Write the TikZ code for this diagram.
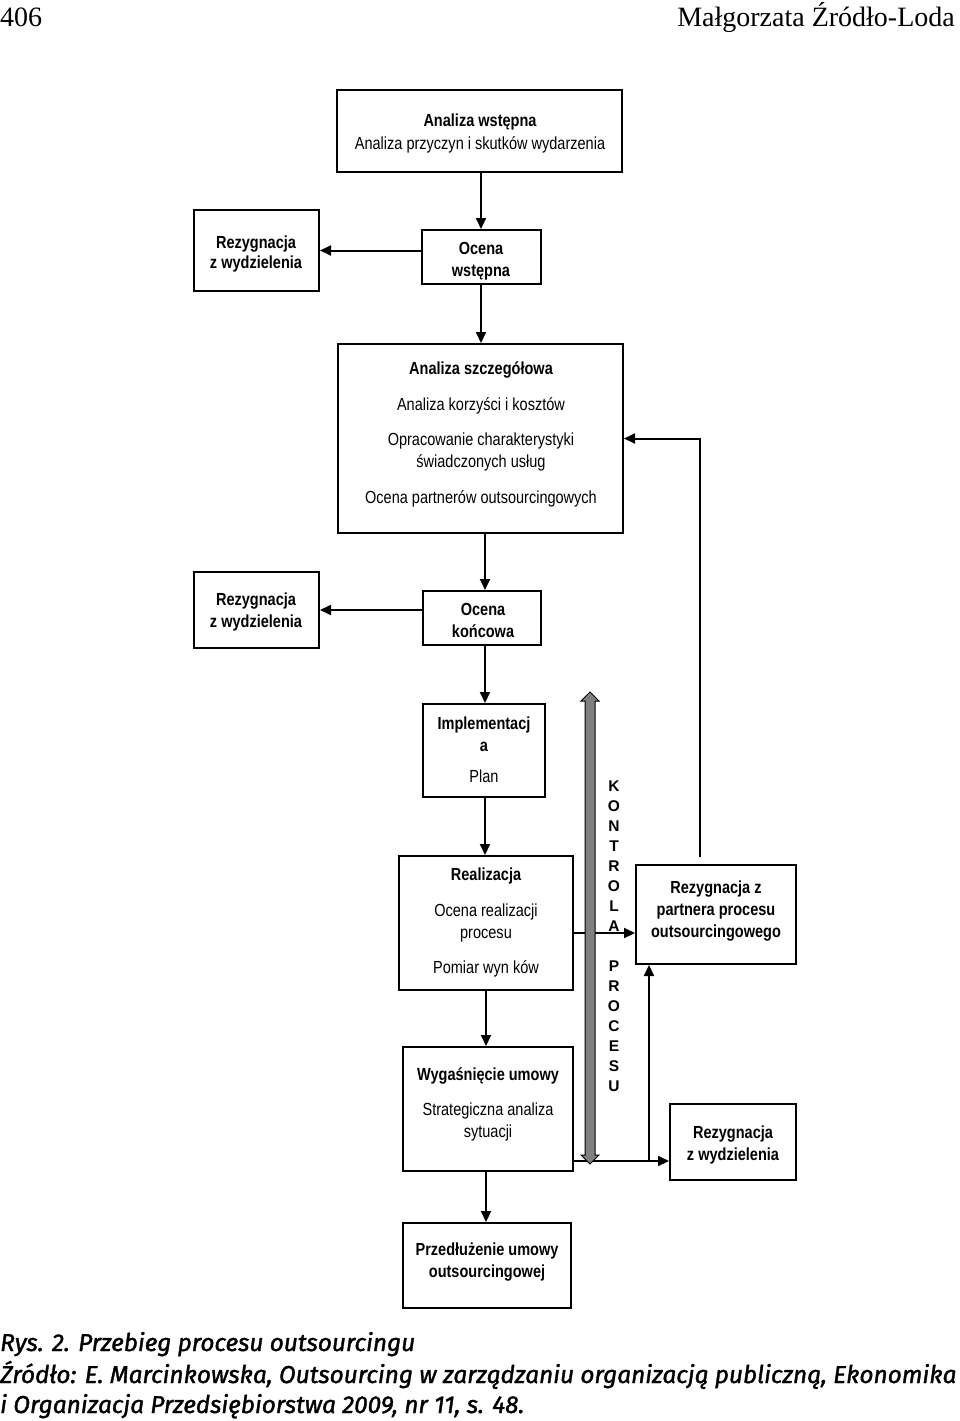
\documentclass[tikz,border=0pt]{standalone}
\usepackage{fontspec}
\usetikzlibrary{arrows.meta}
\newfontfamily\df[FakeStretch=0.83]{Liberation Sans}
\newfontfamily\kf{Liberation Sans}
\newfontfamily\hf{Liberation Serif}
\newfontfamily\cf[FakeBold=1.5]{Fira Sans}
\definecolor{shaft}{HTML}{808080}
\tikzset{
  box/.style={draw=black, line width=2pt, fill=white, inner sep=0pt},
  txt/.style={font=\df\fontsize{17.5}{20}\selectfont, inner sep=0pt, anchor=center, text height=12.5pt, text depth=0pt},
  btxt/.style={txt, font=\df\bfseries\fontsize{17.5}{20}\selectfont},
  ktxt/.style={font=\kf\bfseries\fontsize{15.5}{18}\selectfont, inner sep=0pt, anchor=center, text height=11pt, text depth=0pt},
  arr/.style={line width=2pt, -{Triangle[length=11pt,width=10pt]}},
  capt/.style={font=\cf\itshape\fontsize{24.4}{31}\selectfont, inner sep=0pt, anchor=base west},
}
\begin{document}
\begin{tikzpicture}[x=1pt,y=-1pt]
\useasboundingbox (0,0) rectangle (960,1421);
% header
\node[font=\hf\fontsize{28}{30}\selectfont, inner sep=0pt, anchor=base west] (pg) at (0,27) {406};
\node[font=\hf\fontsize{28}{30}\selectfont, inner sep=0pt, anchor=base east] (au) at (955,27) {Małgorzata Źródło-Loda};
% boxes
\node[box, minimum width=285pt, minimum height=82pt] (aw) at (479.5,131) {};
\node[box, minimum width=125pt, minimum height=81pt] (rz1) at (256.5,250.5) {};
\node[box, minimum width=119pt, minimum height=54pt] (ow) at (481.5,257) {};
\node[box, minimum width=285pt, minimum height=189pt] (as) at (480.5,438.5) {};
\node[box, minimum width=125pt, minimum height=76pt] (rz2) at (256.5,610) {};
\node[box, minimum width=118pt, minimum height=54pt] (ok) at (482,618) {};
\node[box, minimum width=122pt, minimum height=93pt] (im) at (484,750.5) {};
\node[box, minimum width=174pt, minimum height=134pt] (re) at (486,923) {};
\node[box, minimum width=170pt, minimum height=124pt] (wy) at (488,1109) {};
\node[box, minimum width=168pt, minimum height=85pt] (pr) at (487,1265.5) {};
\node[box, minimum width=160pt, minimum height=99pt] (rp) at (716,914.5) {};
\node[box, minimum width=126pt, minimum height=76pt] (rz3) at (733,1142) {};
% texts
\node[btxt] (t1) at (480,120) {Analiza wstępna};
\node[txt] (t2) at (480,143) {Analiza przyczyn i skutków wydarzenia};
\node[btxt] (t3) at (256,242) {Rezygnacja};
\node[btxt] (t4) at (256,262) {z wydzielenia};
\node[btxt] (t5) at (481,248) {Ocena};
\node[btxt] (t6) at (481,270) {wstępna};
\node[btxt] (t7) at (481,368) {Analiza szczegółowa};
\node[txt] (t8) at (481,404) {Analiza korzyści i kosztów};
\node[txt] (t9) at (481,439) {Opracowanie charakterystyki};
\node[txt] (t10) at (481,461) {świadczonych usług};
\node[txt] (t11) at (481,497) {Ocena partnerów outsourcingowych};
\node[btxt] (t12) at (256,599) {Rezygnacja};
\node[btxt] (t13) at (256,621) {z wydzielenia};
\node[btxt] (t14) at (483,609) {Ocena};
\node[btxt] (t15) at (483,631) {końcowa};
\node[btxt] (t16) at (484,723) {Implementacj};
\node[btxt] (t17) at (484,745) {a};
\node[txt] (t18) at (484,776) {Plan};
\node[btxt] (t19) at (486,874) {Realizacja};
\node[txt] (t20) at (486,910) {Ocena realizacji};
\node[txt] (t21) at (486,932) {procesu};
\node[txt] (t22) at (486,967) {Pomiar wyn ków};
\node[btxt] (t23) at (488,1074) {Wygaśnięcie umowy};
\node[txt] (t24) at (488,1109) {Strategiczna analiza};
\node[txt] (t25) at (488,1131) {sytuacji};
\node[btxt] (t26) at (487,1249) {Przedłużenie umowy};
\node[btxt] (t27) at (487,1271) {outsourcingowej};
\node[btxt] (t28) at (716,887) {Rezygnacja z};
\node[btxt] (t29) at (716,909) {partnera procesu};
\node[btxt] (t30) at (716,931) {outsourcingowego};
\node[btxt] (t31) at (733,1132) {Rezygnacja};
\node[btxt] (t32) at (733,1154) {z wydzielenia};
% helper coordinates
\coordinate (c481) at (481,0);
\coordinate (c485) at (485,0);
\coordinate (c486) at (486,0);
\coordinate (h933) at (0,933);
\coordinate (h1161) at (0,1161);
\coordinate (j1) at (649,1161);
\coordinate (f1) at (700,857);
% main column arrows
\draw[arr] (aw.south -| c481) -- (ow.north -| c481);
\draw[arr] (ow.south -| c481) -- (as.north -| c481);
\draw[arr] (as.south -| c485) -- (ok.north -| c485);
\draw[arr] (ok.south -| c485) -- (im.north -| c485);
\draw[arr] (im.south -| c485) -- (re.north -| c485);
\draw[arr] (re.south -| c486) -- (wy.north -| c486);
\draw[arr] (wy.south -| c486) -- (pr.north -| c486);
% side arrows
\draw[arr] (rz1.east -| ow.west) -- (rz1.east);
\draw[arr] (rz2.east -| ok.west) -- (rz2.east);
\draw[arr] (re.east |- h933) -- (rp.west |- h933);
\draw[arr] (wy.east |- h1161) -- (rz3.west |- h1161);
\draw[arr] (j1) -- (rp.south -| j1);
\draw[arr] (f1) |- (as.east);
% control arrow
\filldraw[fill=shaft, draw=black, line width=1pt] (590,692) -- (599,701) -- (595,701) -- (595,1155) -- (599,1155) -- (590,1164) -- (581,1155) -- (585,1155) -- (585,701) -- (581,701) -- cycle;
\foreach \l [count=\i] in {K,O,N,T,R,O,L,A}
  \node[ktxt] (k\i) at (614,{786+20*(\i-1)}) {\l};
\foreach \l [count=\i] in {P,R,O,C,E,S,U}
  \node[ktxt] (p\i) at (614,{966+20*(\i-1)}) {\l};
% caption
\node[capt] (c1) at (0,1351) {Rys. 2. Przebieg procesu outsourcingu};
\node[capt] (c2) at (0,1383) {Źródło: E. Marcinkowska, Outsourcing w zarządzaniu organizacją publiczną, Ekonomika};
\node[capt] (c3) at (0,1413) {i Organizacja Przedsiębiorstwa 2009, nr 11, s. 48.};
\end{tikzpicture}
\end{document}
